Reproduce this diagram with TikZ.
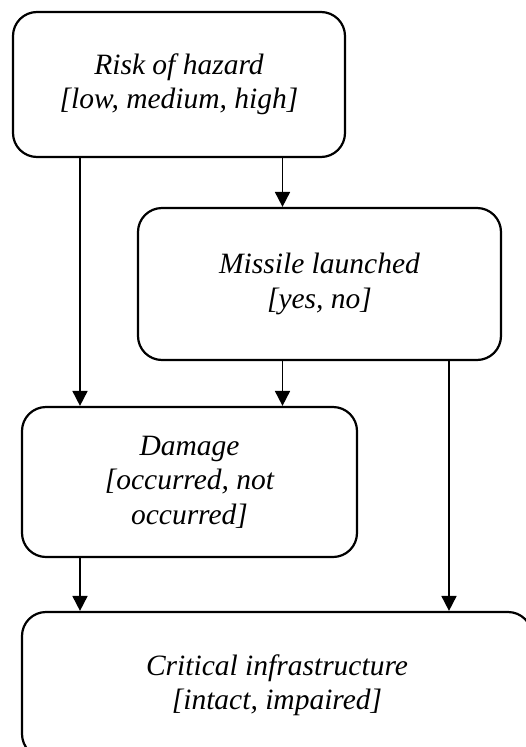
\documentclass[tikz,border=0pt]{standalone}
\usepackage{fontspec}
\setmainfont{Liberation Serif}
\usetikzlibrary{arrows.meta}
\begin{document}
\begin{tikzpicture}[x=1pt,y=-1pt,
  varbox/.style={draw=black,line width=2.2pt,rounded corners=24pt,fill=white,
    align=center,inner sep=0pt,
    font=\fontsize{29.5}{34.5}\selectfont\itshape,
    execute at begin node={\rule{0pt}{34pt}}},
  link/.style={line width=1.8pt,-{Triangle[length=15pt,width=15pt]}}]
  \useasboundingbox (0,0) rectangle (526,747);
  \clip (0,0) rectangle (526,747);
  \fill[white] (0,0) rectangle (526,747);

  % variable nodes
  \node[varbox,minimum width=332pt,minimum height=145pt] (risk) at (179,84.5)
    {Risk of hazard\\{}[low, medium, high]};
  \node[varbox,minimum width=363pt,minimum height=152pt] (missile) at (319.5,284)
    {Missile launched\\{}[yes, no]};
  \node[varbox,minimum width=335pt,minimum height=150pt] (damage) at (189.5,482)
    {Damage\\{}[occurred, not\\occurred]};
  \node[varbox,minimum width=510pt,minimum height=146pt] (infra) at (277,685)
    {Critical infrastructure\\{}[intact, impaired]};

  % columns of the connectors
  \coordinate (colA) at (80,0);
  \coordinate (colB) at (282.5,0);
  \coordinate (colC) at (449,0);

  \draw[link] (risk.south -| colA) -- (damage.north -| colA);
  \draw[link] (risk.south -| colB) -- (missile.north -| colB);
  \draw[link] (missile.south -| colB) -- (damage.north -| colB);
  \draw[link] (missile.south -| colC) -- (infra.north -| colC);
  \draw[link] (damage.south -| colA) -- (infra.north -| colA);
\end{tikzpicture}
\end{document}
